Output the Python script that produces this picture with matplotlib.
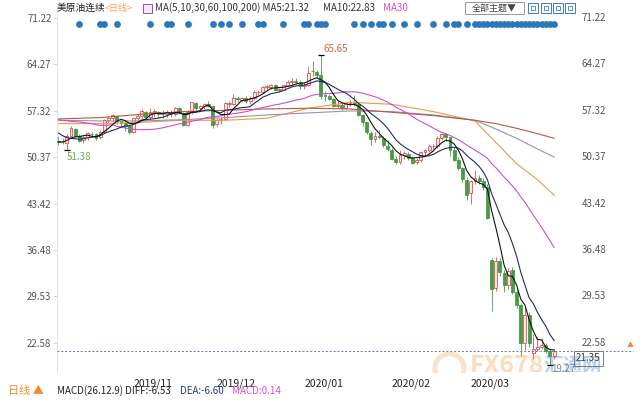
import matplotlib
matplotlib.use("Agg")
import matplotlib.pyplot as plt
import matplotlib.transforms as mtransforms
from matplotlib.lines import Line2D
from matplotlib.patches import Rectangle
import numpy as np
import pandas as pd

plt.rcParams['font.family'] = ['Noto Sans CJK SC', 'DejaVu Sans']

# daily bars 2019-10-08 .. 2020-03-30, US exchange holidays dropped
holidays = ["2019-11-28", "2019-12-25", "2020-01-01", "2020-01-20", "2020-02-17"]
dates = pd.bdate_range("2019-10-08", "2020-03-30").drop(pd.to_datetime(holidays))

opens = [52.80, 52.60, 52.50, 53.60, 54.60, 53.60, 52.90, 53.40, 53.90, 53.80,
         53.40, 54.20, 55.90, 56.20, 56.60, 55.80, 55.50, 55.00,
         54.20, 56.30, 56.50, 57.20, 56.40, 57.10, 57.10, 56.90, 56.80, 57.10,
         56.80, 57.70, 57.00, 55.20, 57.10, 58.50, 57.80, 58.00, 58.40, 58.10,
         55.30, 55.90, 56.10, 58.40, 58.40, 59.20, 59.00, 59.20, 58.80, 59.20,
         60.10, 60.20, 60.90, 60.90, 61.20, 60.40, 60.50, 61.10, 61.70, 61.70, 61.70,
         61.10, 61.20, 63.30, 63.20, 62.70, 59.60, 59.50, 59.10, 58.10, 58.20,
         57.80, 58.50, 58.60, 58.30, 56.70, 55.60, 54.00, 53.10, 53.50, 53.30, 52.10,
         51.40, 50.10, 49.60, 50.70, 50.90, 50.30, 49.60, 49.90, 51.20, 51.40,
         52.00, 52.00, 53.30, 53.80, 53.40, 51.40, 49.90, 48.70, 47.00,
         45.00, 46.80, 47.20, 46.80, 45.90, 34.90, 30.80, 34.80, 33.00, 31.20,
         33.50, 30.20, 28.30, 22.60, 26.70, 21.00, 21.60, 21.90, 22.30, 21.30, 20.60]
highs = [53.50, 53.20, 53.85, 55.00, 54.70, 53.90, 53.60, 54.20, 54.20, 54.00,
         54.40, 56.10, 56.60, 56.90, 56.70, 56.00, 55.90, 55.40,
         56.30, 56.90, 57.60, 57.30, 57.70, 57.60, 57.30, 57.40, 57.40, 57.40,
         57.90, 57.90, 57.10, 57.40, 58.70, 58.70, 58.20, 58.50, 58.80, 58.10,
         56.20, 56.40, 58.70, 58.80, 59.85, 59.50, 59.40, 59.50, 59.60, 60.40,
         60.50, 61.10, 61.20, 61.40, 61.30, 60.80, 61.20, 61.90, 62.30, 62.30, 61.90,
         61.60, 64.09, 64.72, 63.40, 65.65, 60.30, 59.90, 59.30, 58.80, 58.50,
         58.70, 59.00, 59.70, 58.50, 56.90, 55.70, 54.30, 54.10, 54.40, 53.50, 53.00,
         51.80, 50.60, 51.40, 51.30, 51.10, 50.50, 50.30, 51.30, 51.60, 52.30,
         52.40, 53.50, 54.00, 54.00, 53.40, 51.90, 50.40, 48.90, 47.40,
         47.00, 48.50, 47.70, 47.20, 46.30, 35.30, 35.40, 35.30, 33.40, 33.80,
         33.90, 30.60, 28.60, 28.00, 27.20, 23.90, 23.40, 23.30, 22.60, 21.70, 21.60]
lows = [52.20, 52.30, 51.38, 53.50, 53.40, 52.60, 52.50, 52.90, 53.40, 52.90,
        53.10, 54.00, 55.50, 55.80, 55.40, 54.90, 54.30, 53.90,
        54.00, 55.90, 56.10, 56.00, 55.90, 56.40, 56.20, 56.30, 56.40, 56.40,
        56.60, 56.80, 55.00, 55.00, 56.90, 57.50, 57.40, 57.60, 57.90, 54.80,
        55.00, 55.40, 56.00, 57.90, 58.20, 58.70, 58.60, 58.50, 58.40, 58.90,
        59.70, 60.00, 60.40, 60.60, 60.30, 60.10, 60.40, 61.00, 61.20, 61.40, 60.60,
        60.60, 61.10, 62.60, 62.30, 59.15, 58.80, 58.90, 57.90, 57.80, 57.40,
        57.60, 58.10, 58.00, 56.50, 55.10, 53.90, 52.20, 52.70, 53.10, 51.90, 51.30,
        49.90, 49.31, 49.30, 50.10, 49.90, 49.40, 49.40, 49.70, 50.50, 51.20,
        51.30, 51.70, 52.90, 52.80, 50.60, 49.80, 48.40, 46.60, 43.90,
        43.30, 46.30, 46.40, 45.50, 41.05, 27.40, 30.30, 32.60, 30.10, 30.60,
        29.90, 27.80, 20.60, 21.50, 22.00, 20.10, 21.30, 21.60, 21.00, 19.27, 20.20]
closes = [52.63, 52.59, 53.55, 54.70, 53.59, 52.81, 53.36, 53.93, 53.78, 53.31,
          54.16, 55.97, 56.23, 56.66, 55.81, 55.54, 55.06, 54.18,
          56.20, 56.54, 57.23, 56.35, 57.15, 57.24, 56.86, 56.80, 57.12, 56.77,
          57.72, 57.05, 55.21, 57.11, 58.58, 57.77, 58.01, 58.41, 58.11, 55.17,
          55.96, 56.10, 58.43, 58.43, 59.20, 59.02, 59.24, 58.76, 59.18, 60.07,
          60.21, 60.94, 60.93, 61.22, 60.44, 60.52, 61.11, 61.68, 61.72, 61.68, 61.06,
          61.18, 63.05, 63.27, 62.70, 59.61, 59.56, 59.04, 58.08, 58.23, 57.81,
          58.52, 58.54, 58.34, 56.74, 55.59, 54.19, 53.14, 53.48, 53.33, 52.14, 51.56,
          50.11, 49.61, 50.75, 50.95, 50.32, 49.57, 49.94, 51.17, 51.42, 52.05,
          52.05, 53.29, 53.78, 53.38, 51.43, 49.90, 48.73, 47.09, 44.76,
          46.75, 47.18, 46.78, 45.90, 41.28, 30.60, 34.80, 33.10, 31.20, 33.30,
          30.20, 28.30, 22.60, 26.70, 22.50, 21.60, 21.90, 22.30, 21.30, 20.60, 21.35]

# closes before the first visible bar, only to warm up MA5/10/30
warmup_closes = [54.93, 55.78, 56.71, 55.10, 53.94, 56.26, 56.30, 56.52, 57.85, 57.40,
                 55.75, 55.09, 54.85, 62.90, 59.34, 58.11, 58.13, 58.09, 58.64, 57.29,
                 56.49, 56.41, 55.91, 54.07, 53.62, 52.64, 52.45, 52.81, 52.75]

# long averages at a few bar indices
ma_idx = [0, 10, 20, 30, 40, 50, 60, 70, 80, 90, 100, 105, 110, 115, 119]
ma60 = [55.4, 55.4, 55.6, 55.9, 55.9, 56.2, 57.7, 58.6, 58.3, 57.2, 55.8, 52.6, 49.4, 47.0, 44.7]
ma100 = [55.9, 55.8, 55.8, 56.0, 56.3, 56.7, 57.0, 57.3, 57.2, 56.7, 55.9, 54.6, 53.2, 51.6, 50.4]
ma200 = [56.1, 56.3, 56.8, 57.2, 57.4, 57.6, 57.7, 57.6, 57.1, 56.6, 55.9, 55.4, 54.7, 53.9, 53.2]

# bars flagged with a blue dot in the top strip
signal_idx = [5, 10, 11, 14, 22, 26, 27, 31, 37, 39, 41, 44, 48, 49, 54, 59, 60, 62, 63, 64,
              71, 73, 75, 77, 78, 80, 83, 86, 90, 93, 95, 96, 98,
              100, 101, 102, 103, 104, 105, 106, 107, 108, 109, 110, 111, 112, 113, 114,
              115, 116, 117, 118, 119]

yticks = [71.22, 64.27, 57.32, 50.37, 43.42, 36.48, 29.53, 22.58]

UP = '#d9534f'
DOWN = '#4a9a4a'

fig = plt.figure(figsize=(6.4, 4), dpi=100)
ax = fig.add_axes([57 / 640, 28 / 400, 515 / 640, 364 / 400])

o, h, l, c = (np.array(v) for v in (opens, highs, lows, closes))
x = np.arange(len(c))
up = c >= o
ax.vlines(x, l, h, colors=np.where(up, UP, DOWN), lw=0.6, zorder=2)
bot = np.minimum(o, c)
hgt = np.maximum(np.abs(c - o), 0.08)
ax.bar(x[up], hgt[up], bottom=bot[up], width=0.7, facecolor='#fde8e8',
       edgecolor=UP, linewidth=0.6, zorder=3)
ax.bar(x[~up], hgt[~up], bottom=bot[~up], width=0.7, facecolor=DOWN,
       edgecolor=DOWN, linewidth=0.6, zorder=3)

allc = pd.Series(warmup_closes + closes)
nw = len(warmup_closes)
for n, col in ((30, '#cc4fcc'), (10, '#232a66'), (5, '#111111')):
    ax.plot(x, allc.rolling(n).mean().iloc[nw:].values, color=col, lw=0.8, zorder=5)
ax.plot(ma_idx, ma60, color='#eb9a45', lw=0.8, zorder=4)
ax.plot(ma_idx, ma100, color='#9a90aa', lw=0.8, zorder=4)
ax.plot(ma_idx, ma200, color='#b45a44', lw=0.8, zorder=4)

# signal dots strip
ax.scatter(signal_idx, [70.32] * len(signal_idx), s=24, color='#2a78ba', zorder=6,
           linewidths=0)

# extreme markers
i_hi = int(np.argmax(h))
ax.plot(i_hi, h[i_hi], marker='_', color='k', ms=5, mew=0.9, zorder=6)
ax.annotate(f'{h[i_hi]:.2f}', (i_hi, h[i_hi]), xytext=(2, 1), textcoords='offset points',
            ha='left', va='bottom', fontsize=7, color='#d0604f')
i_lo1 = int(np.argmin(l[:40]))
ax.plot(i_lo1, l[i_lo1], marker='_', color='k', ms=5, mew=0.9, zorder=6)
ax.annotate(f'{l[i_lo1]:.2f}', (i_lo1, l[i_lo1]), xytext=(0, -1), textcoords='offset points',
            ha='left', va='top', fontsize=7, color='#6aa84f')
i_lo = int(np.argmin(l))
ax.plot(i_lo, l[i_lo], marker='_', color='k', ms=5, mew=0.9, zorder=6)
ax.annotate(f'{l[i_lo]:.2f}', (i_lo, l[i_lo]), xytext=(1, -3), textcoords='offset points',
            ha='left', va='center', fontsize=7, color='#888888', annotation_clip=False)

ax.set_xlim(-0.36, 123.3)
ax.set_ylim(18.19, 72.72)

# y axis: labels both sides
ax.set_yticks(yticks)
ax.set_yticklabels([f'{v:.2f}' for v in yticks])
ax.tick_params(axis='y', length=3, width=0.6, color='#cccccc', pad=1,
               labelsize=7, labelcolor='#555555')
rtrans = mtransforms.blended_transform_factory(ax.transAxes, ax.transData)
for v in yticks:
    ax.text(1 + 10 / 515, v, f'{v:.2f}', transform=rtrans, ha='left', va='center',
            fontsize=7, color='#555555')

# month labels at first bar of each month
month_idx = [i for i in range(1, len(dates)) if dates[i].month != dates[i - 1].month]
ax.set_xticks(month_idx)
ax.set_xticklabels([dates[i].strftime('%Y/%m') for i in month_idx], ha='left')
ax.tick_params(axis='x', length=0, pad=5, labelsize=7.5, labelcolor='#222222')

for s in ('top', 'right', 'bottom'):
    ax.spines[s].set_visible(False)
ax.spines['left'].set_color('#e4e4e4')
ax.spines['left'].set_linewidth(0.8)

# last price line and box
ftrans = mtransforms.blended_transform_factory(fig.transFigure, ax.transData)
ax.plot([57 / 640, 633 / 640], [c[-1], c[-1]], transform=ftrans, ls=(0, (2, 2)),
        color='#5a7fa8', lw=0.7, clip_on=False, zorder=7)
ax.text(1 + 4 / 515, c[-1] - 1.1, f'{c[-1]:.2f}', transform=rtrans, ha='left', va='center',
        fontsize=7, color='#333333', zorder=8,
        bbox=dict(boxstyle='square,pad=0.25', fc='white', ec='#666666', lw=0.6))
fig.text(630 / 640, 1 - 345 / 400, '▲', fontsize=5, color='#f08a30', ha='center', va='center')

# watermark, cut at the plot bottom
clip = mtransforms.TransformedBbox(mtransforms.Bbox([[0, 28 / 400], [1, 1]]), fig.transFigure)
wm = [fig.text(507 / 640, 1 - 366 / 400, 'FX678', fontsize=18, fontweight='bold',
               color='#f5a860', alpha=0.4, ha='center', va='center'),
      fig.text(573 / 640, 1 - 366 / 400, '汇通网', fontsize=14, fontweight='bold',
               color='#3f78c8', alpha=0.35, ha='center', va='center')]
logo = Line2D([449 / 640], [1 - 368 / 400], marker='o', ms=21, mfc='none', mec='#f3ac6c',
              mew=3.5, alpha=0.35, transform=fig.transFigure)
fig.add_artist(logo)
wm.append(logo)
for a in wm:
    a.set_clip_box(clip)
    a.set_clip_on(True)

# header line
ty = 1 - 8 / 400
fig.text(57 / 640, ty, '美原油连续', fontsize=7, color='#222222', va='center')
fig.text(105 / 640, ty, '<日线>', fontsize=6.5, color='#f0a050', va='center')
fig.add_artist(Rectangle((143 / 640, 1 - 13 / 400), 9 / 640, 9 / 400, transform=fig.transFigure,
                         fc='#f4e6f4', ec='#8a5a9a', lw=0.7))
fig.text(155 / 640, ty, 'MA(5,10,30,60,100,200) MA5:21.32', fontsize=7, color='#333333',
         va='center')
fig.text(323 / 640, ty, 'MA10:22.83', fontsize=7, color='#333333', va='center')
fig.text(383 / 640, ty, 'MA30', fontsize=7, color='#d050d0', va='center')
fig.add_artist(Rectangle((465 / 640, 1 - 14 / 400), 59 / 640, 12 / 400, transform=fig.transFigure,
                         fc='white', ec='#999999', lw=0.7))
fig.text(494 / 640, 1 - 8 / 400, '全部主题▼', fontsize=6.5, color='#444444',
         ha='center', va='center')
for bx in (528, 541, 553, 565):
    fig.add_artist(Rectangle((bx / 640, 1 - 13 / 400), 10 / 640, 10 / 400,
                             transform=fig.transFigure, fc='white', ec='#3a78c8', lw=0.7))
    fig.add_artist(Rectangle(((bx + 3) / 640, 1 - 10 / 400), 4 / 640, 4 / 400,
                             transform=fig.transFigure, fc='none', ec='#3a78c8', lw=0.6))

# footer line
by = 1 - 391 / 400
fig.text(8 / 640, by, '日线 ▲', fontsize=8, color='#f08a30', va='center')
fig.text(57 / 640, by, 'MACD(26.12.9) DIFF:-6.53', fontsize=7, color='#222222', va='center')
fig.text(180 / 640, by, 'DEA:-6.60', fontsize=7, color='#2a3a90', va='center')
fig.text(232 / 640, by, 'MACD:0.14', fontsize=7, color='#d050d0', va='center')

fig.savefig('out.png', dpi=100)
